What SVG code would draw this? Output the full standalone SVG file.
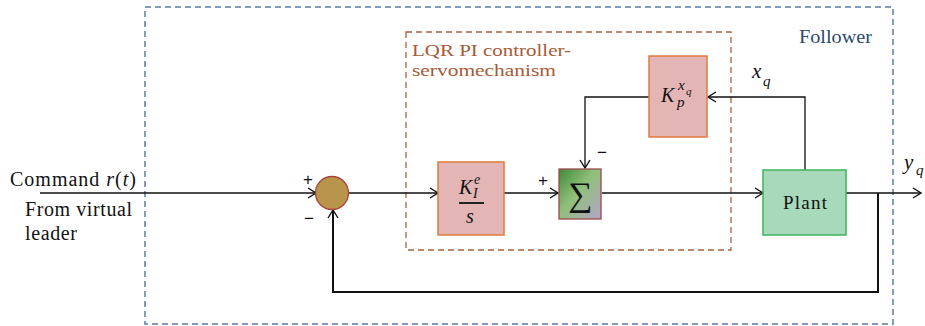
<svg xmlns="http://www.w3.org/2000/svg" width="925" height="326" viewBox="0 0 925 326">
  <style>
    .wire { fill: none; stroke: #111; stroke-width: 1.3; }
    .wire-heavy { fill: none; stroke: #111; stroke-width: 2; }
    .gain { fill: #E3B5B5; stroke: #E07B3C; stroke-width: 1.5; }
    .plant { fill: #A8D9BB; stroke: #3DB55C; stroke-width: 1.5; }
    text { font-family: "Liberation Serif", "DejaVu Serif", serif; fill: #111; }
    .math { font-style: italic; }
    .sign { font-family: "Liberation Sans", "DejaVu Sans", sans-serif; font-size: 17px; }
  </style>
  <defs>
    <marker id="arrow" viewBox="0 0 12 12" refX="11" refY="6" markerWidth="12" markerHeight="12" markerUnits="userSpaceOnUse" orient="auto">
      <polyline points="3,1 11,6 3,11" fill="none" stroke="#111" stroke-width="1.4"/>
    </marker>
    <linearGradient id="sumFill" x1="0" y1="0" x2="1" y2="1">
      <stop offset="0" stop-color="#3E8A36"/>
      <stop offset="0.45" stop-color="#8FC07A"/>
      <stop offset="1" stop-color="#B7A3C9"/>
    </linearGradient>
  </defs>

  <rect width="925" height="326" fill="#fff"/>

  <!-- Follower boundary -->
  <g id="follower">
    <rect x="145" y="7" width="748" height="317" fill="none" stroke="#5A7CA8" stroke-width="1.5" stroke-dasharray="6,4"/>
    <text x="799" y="43" font-size="19" textLength="73" lengthAdjust="spacingAndGlyphs" style="fill:#2B4A6E">Follower</text>
  </g>

  <!-- LQR PI controller-servomechanism boundary -->
  <g id="controller">
    <rect x="406" y="32" width="325" height="218" fill="none" stroke="#A8603E" stroke-width="1.3" stroke-dasharray="6,4"/>
    <text x="412" y="56" font-size="17" textLength="159" lengthAdjust="spacingAndGlyphs" style="fill:#A65A35">LQR PI controller-</text>
    <text x="412" y="76" font-size="17" textLength="144" lengthAdjust="spacingAndGlyphs" style="fill:#A65A35">servomechanism</text>
  </g>

  <!-- Connectors -->
  <g id="connectors">
    <line x1="40" y1="193" x2="316" y2="193" class="wire" marker-end="url(#arrow)"/>
    <line x1="349" y1="193" x2="438" y2="193" class="wire" marker-end="url(#arrow)"/>
    <line x1="504" y1="193" x2="558" y2="193" class="wire" marker-end="url(#arrow)"/>
    <line x1="602" y1="193" x2="763" y2="193" class="wire" marker-end="url(#arrow)"/>
    <line x1="846" y1="193" x2="921" y2="193" class="wire" marker-end="url(#arrow)"/>
    <polyline points="805,170 805,97 708,97" class="wire" marker-end="url(#arrow)"/>
    <polyline points="649,97 585,97 585,168" class="wire" marker-end="url(#arrow)"/>
    <polyline points="878,193 878,292 333,292 333,210" class="wire-heavy" marker-end="url(#arrow)"/>
  </g>

  <!-- Input labels -->
  <g id="input">
    <text x="10" y="186" font-size="20" textLength="126">Command <tspan class="math">r</tspan>(<tspan class="math">t</tspan>)</text>
    <text x="25" y="216" font-size="20" textLength="107">From virtual</text>
    <text x="25" y="240" font-size="20" textLength="52">leader</text>
  </g>

  <!-- Summing junction -->
  <g id="junction">
    <circle cx="332" cy="193" r="16.5" fill="#B8954A" stroke="#A9433A" stroke-width="1.3"/>
    <text x="303" y="185" class="sign">+</text>
    <text x="304" y="224" class="sign">−</text>
  </g>

  <!-- Integral gain K_I^e / s -->
  <g id="integral-gain">
    <rect x="438" y="162" width="66" height="73" class="gain"/>
    <text x="459" y="194" class="math" font-size="20">K</text>
    <text x="474" y="184" class="math" font-size="14">e</text>
    <text x="473" y="198" class="math" font-size="14">I</text>
    <line x1="459" y1="203" x2="484" y2="203" stroke="#111" stroke-width="1.8"/>
    <text x="466" y="223" class="math" font-size="20">s</text>
  </g>

  <!-- Summation block -->
  <g id="summation">
    <rect x="559" y="169" width="42" height="50" fill="url(#sumFill)" stroke="#9B4A4A" stroke-width="1.3"/>
    <text x="580" y="206" font-size="34" text-anchor="middle">∑</text>
    <text x="538" y="186" class="sign">+</text>
    <text x="597" y="158" class="sign">−</text>
  </g>

  <!-- Proportional gain K_P^{x_q} -->
  <g id="proportional-gain">
    <rect x="649" y="56" width="58" height="81" class="gain"/>
    <text x="661" y="102" class="math" font-size="20">K</text>
    <text x="677" y="107" class="math" font-size="15">p</text>
    <text x="678" y="90" class="math" font-size="15">x</text>
    <text x="686" y="95" class="math" font-size="11">q</text>
  </g>

  <!-- Plant -->
  <g id="plant">
    <rect x="763" y="170" width="83" height="65" class="plant"/>
    <text x="783" y="209" font-size="19" textLength="44">Plant</text>
  </g>

  <!-- Signal labels -->
  <g id="signals">
    <text x="752" y="78" class="math" font-size="21">x</text>
    <text x="763" y="86" class="math" font-size="15">q</text>
    <text x="904" y="169" class="math" font-size="21">y</text>
    <text x="916" y="175" class="math" font-size="15">q</text>
  </g>
</svg>
